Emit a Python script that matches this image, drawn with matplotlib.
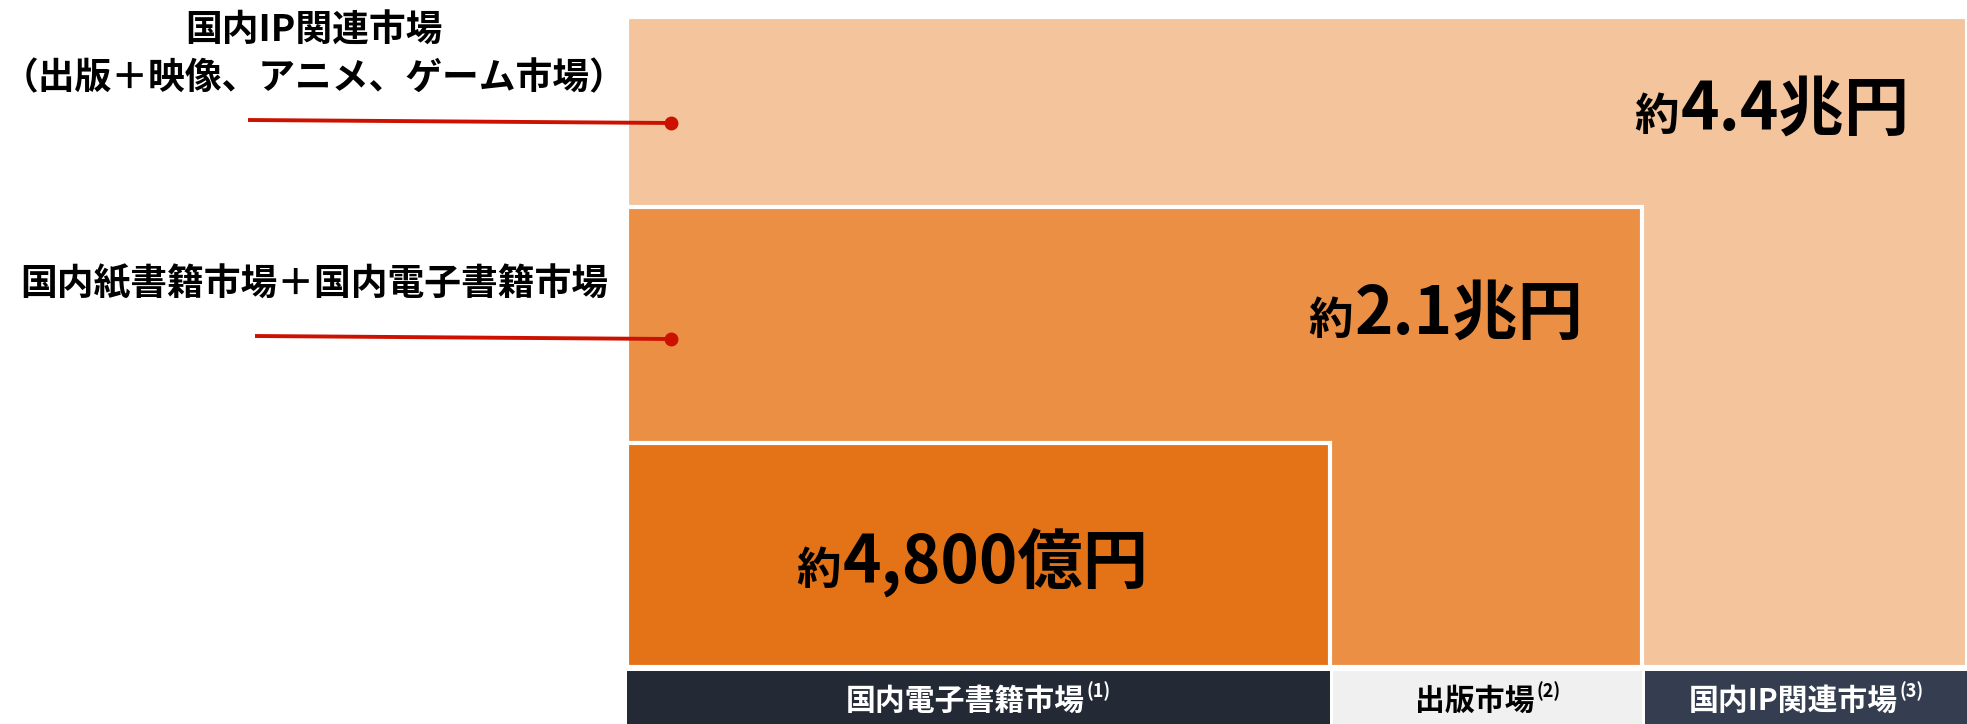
import matplotlib.pyplot as plt
from matplotlib.patches import Rectangle

plt.rcParams['font.family'] = ['Noto Sans CJK JP', 'DejaVu Sans']

# data
markets = ['国内電子書籍市場', '出版市場', '国内IP関連市場']
notes = ['(1)', '(2)', '(3)']
value_nums = ['4,800億円', '2.1兆円', '4.4兆円']
value_prefix = '約'
callouts = ['国内IP関連市場\n（出版＋映像、アニメ、ゲーム市場）',
            '国内紙書籍市場＋国内電子書籍市場']

fill_colors = ['#E47216', '#EB8F45', '#F4C49C']
bar_colors = ['#232A36', '#F0F0F0', '#343E50']
bar_text = ['white', 'black', 'white']

W, H = 1967, 724
fig = plt.figure(figsize=(W / 100, H / 100), dpi=100)
ax = fig.add_axes([0, 0, 1, 1])
ax.set_xlim(0, W)
ax.set_ylim(H, 0)
ax.axis('off')

# nested blocks: (left, top, right) , bottom shared
left, bottom = 627, 667
tops = [443, 207, 17]
rights = [1330, 1642, 1967]
for i in [2, 1, 0]:
    ax.add_patch(Rectangle((left, tops[i]), rights[i] - left, bottom - tops[i],
                           facecolor=fill_colors[i], edgecolor='white',
                           linewidth=3, zorder=i * -1 + 3))

# bottom label bars
bar_y0, bar_y1 = 671, 724
edges = [left, rights[0] + 2, rights[1] + 2, W]
fig.canvas.draw()
rend = fig.canvas.get_renderer()


def width_of(t):
    bb = t.get_window_extent(renderer=rend)
    return bb.width


for i, name in enumerate(markets):
    x0 = edges[i] + (1 if i else 0)
    x1 = edges[i + 1] - 2 if i < 2 else W
    ax.add_patch(Rectangle((x0, bar_y0), x1 - x0, bar_y1 - bar_y0,
                           facecolor=bar_colors[i], edgecolor='none', zorder=5))
    t1 = ax.text(0, 0, name, fontsize=21.5, fontweight='bold', color=bar_text[i],
                 va='baseline', ha='left', zorder=6)
    t2 = ax.text(0, 0, notes[i], fontsize=13, fontweight='bold', color=bar_text[i],
                 va='baseline', ha='left', zorder=6)
    w1, w2 = width_of(t1), width_of(t2)
    cx = (x0 + x1) / 2
    xs = cx - (w1 + w2 + 2) / 2
    t1.set_position((xs, 710))
    t2.set_position((xs + w1 + 2, 697))

# value labels
num_size, pre_size = 47, 32
anchors = [(972, 584, 'center'), (1584, 334, 'right'), (1910, 130, 'right')]
for i, (ax_x, ax_y, mode) in enumerate(anchors):
    tn = ax.text(0, ax_y, value_nums[i], fontsize=num_size, fontweight='bold',
                 color='black', va='baseline', ha='left', zorder=7)
    tp = ax.text(0, ax_y, value_prefix, fontsize=pre_size, fontweight='bold',
                 color='black', va='baseline', ha='left', zorder=7)
    wn, wp = width_of(tn), width_of(tp)
    total = wn + wp + 2
    xs = ax_x - total / 2 if mode == 'center' else ax_x - total
    tp.set_x(xs)
    tn.set_x(xs + wp + 2)

# callouts on the left
ax.text(314, 55, callouts[0], fontsize=26.5, fontweight='bold', color='black',
        ha='center', va='center', linespacing=1.4)
ax.text(314, 284, callouts[1], fontsize=26.5, fontweight='bold', color='black',
        ha='center', va='center')

lines = [((248, 671), (120, 123)), ((255, 671), (336, 339))]
for xs_, ys_ in lines:
    ax.plot(xs_, ys_, color='#CC1100', linewidth=2.8, zorder=8,
            solid_capstyle='butt')
    ax.plot(xs_[1], ys_[1], 'o', color='#CC1100', markersize=9, zorder=8)

fig.savefig('out.png', dpi=100)
